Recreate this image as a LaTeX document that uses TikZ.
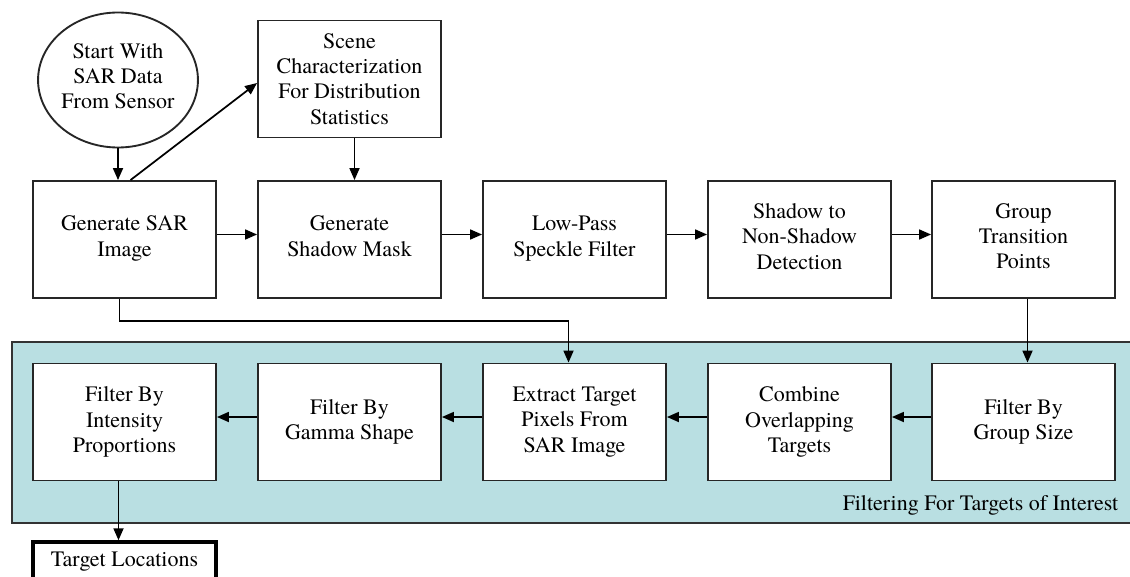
\documentclass[tikz,border=0pt]{standalone}
\usepackage{fontspec}
\setmainfont{texgyretermes}[Extension=.otf, UprightFont=*-regular, BoldFont=*-bold, ItalicFont=*-italic, BoldItalicFont=*-bolditalic]
\usetikzlibrary{arrows.meta,calc,shapes.geometric}
\definecolor{panelteal}{HTML}{B9DFE2}
\definecolor{edgegray}{HTML}{333333}

\begin{document}
\begin{tikzpicture}[x=0.75pt,y=-0.75pt,
  every node/.style={font=\rmfamily\fontsize{16.5}{19}\selectfont},
  stepbox/.style={draw=black!85, line width=1.4pt, fill=white,
    minimum width=137.25pt, minimum height=87.75pt, align=center, inner sep=0pt},
  raised/.style={text depth=5pt},
  flow/.style={line width=1.3pt, -{Triangle[length=9pt,width=7.5pt]}}]
\clip (0,0) rectangle (1130,577);
\fill[white] (0,0) rectangle (1130,577);

% background panel of the filtering stage
\draw[fill=panelteal, draw=edgegray, line width=1.2pt] (12,342) rectangle (1140,523);
\node[anchor=east] (lbl) at (1123,505) {Filtering For Targets of Interest};

% start
\node[draw=black!85, line width=1.4pt, ellipse, fill=white, inner sep=0pt,
  minimum width=111.75pt, minimum height=101.25pt, align=center, text depth=6pt] (start) at (118,80)
  {Start With\\SAR Data\\From Sensor};

% top row
\node[stepbox] (scene) at (349.5,79) {Scene\\Characterization\\For Distribution\\Statistics};
\node[stepbox, raised] (sar) at (124.5,239.5) {Generate SAR\\Image};
\node[stepbox, raised] (shadow) at (349.5,239.5) {Generate\\Shadow Mask};
\node[stepbox, raised] (lowpass) at (574.5,239.5) {Low-Pass\\Speckle Filter};
\node[stepbox, raised] (detect) at (799.5,239.5) {Shadow to\\Non-Shadow\\Detection};
\node[stepbox, raised] (group) at (1023.5,239.5) {Group\\Transition\\Points};

% bottom row
\node[stepbox] (fip) at (124.5,422) {Filter By\\Intensity\\Proportions};
\node[stepbox] (gamma) at (349.5,422) {Filter By\\Gamma Shape};
\node[stepbox] (extract) at (574.5,422) {Extract Target\\Pixels From\\SAR Image};
\node[stepbox] (comb) at (799.5,422) {Combine\\Overlapping\\Targets};
\node[stepbox] (fgs) at (1023.5,422) {Filter By\\Group Size};

% output
\node[draw=black, line width=2.6pt, fill=white, minimum width=137.25pt,
  minimum height=30pt, inner sep=0pt] (target) at (124.5,562) {Target Locations};

% connectors
\draw[flow] (start.south) -- (start.south |- sar.north);
\draw[flow] ($(sar.north)+(6,0)$) -- ($(scene.west)+(0,4)$);
\draw[flow] ($(scene.south)+(5,0)$) -- ($(shadow.north)+(5,0)$);
\draw[flow] ($(sar.east)+(0,-5)$) -- ($(shadow.west)+(0,-5)$);
\draw[flow] ($(shadow.east)+(0,-5)$) -- ($(lowpass.west)+(0,-5)$);
\draw[flow] ($(lowpass.east)+(0,-5)$) -- ($(detect.west)+(0,-5)$);
\draw[flow] ($(detect.east)+(0,-5)$) -- ($(group.west)+(0,-5)$);
\draw[flow] ($(group.south)+(4,0)$) -- ($(fgs.north)+(4,0)$);
\draw[flow] ($(fgs.west)+(0,-5)$) -- ($(comb.east)+(0,-5)$);
\draw[flow] ($(comb.west)+(0,-5)$) -- ($(extract.east)+(0,-5)$);
\draw[flow] ($(extract.west)+(0,-5)$) -- ($(gamma.east)+(0,-5)$);
\draw[flow] ($(gamma.west)+(0,-5)$) -- ($(fip.east)+(0,-5)$);
\draw[flow] ($(sar.south)+(-5,0)$) -- ++(0,22) -| ($(extract.north)+(-6,0)$);
\draw[flow] ($(fip.south)+(-6,0)$) -- ($(target.north)+(-6,0)$);
\end{tikzpicture}
\end{document}
